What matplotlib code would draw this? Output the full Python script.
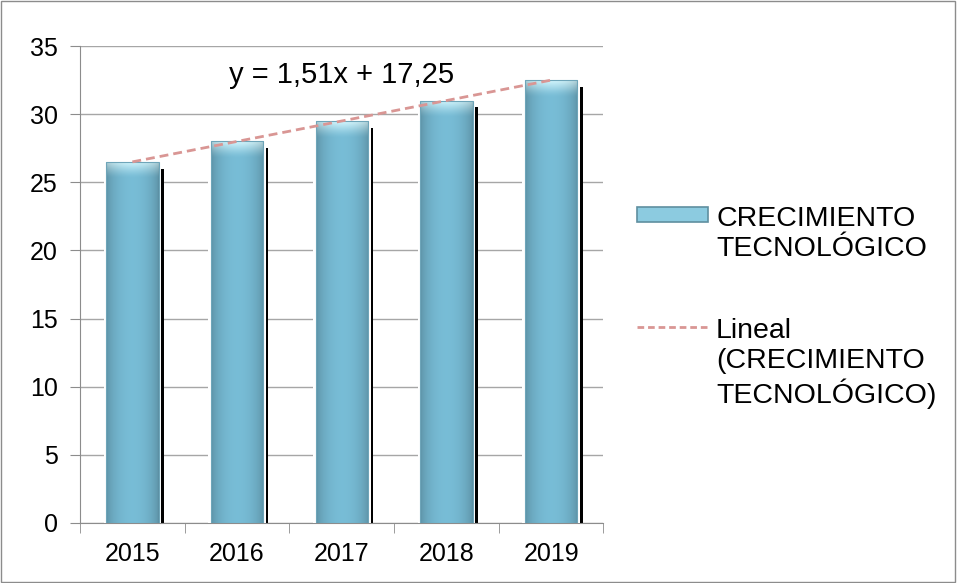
import matplotlib.pyplot as plt
import numpy as np
from matplotlib.patches import Rectangle
from matplotlib.lines import Line2D

plt.rcParams['font.family'] = ['Liberation Sans', 'DejaVu Sans']

years = ['2015', '2016', '2017', '2018', '2019']
values = [26.5, 28, 29.5, 31, 32.5]
series_name = 'CRECIMIENTO\nTECNOLÓGICO'
trend_name = 'Lineal\n(CRECIMIENTO\nTECNOLÓGICO)'
equation = 'y = 1,51x + 17,25'
yticks = [0, 5, 10, 15, 20, 25, 30, 35]

W, H = 957, 583
fig = plt.figure(figsize=(W / 100, H / 100), dpi=100)
ax = fig.add_axes([0.0836, 0.103, 0.547, 0.818])

x = np.arange(len(years))
w = 0.5

body_col = np.array([0.47, 0.74, 0.84])
top_col = np.array([0.82, 0.96, 0.99])
nx = 60
prof = 0.76 + 0.24 * np.sin(np.pi * np.linspace(0, 1, nx)) ** 0.6


def bar_image(v):
    # vertical: body colour, lightening in the top ~1 unit
    ny = 400
    yy = np.linspace(0, v, ny)
    mix = np.clip((yy - (v - 1.2)) / 1.2, 0, 1) ** 1.5
    col = body_col[None, :] * (1 - mix[:, None]) + top_col[None, :] * mix[:, None]
    img = col[:, None, :] * prof[None, :, None]
    img = img * (1 - 0.25 * mix[:, None, None]) + 0.25 * mix[:, None, None] * top_col
    return np.clip(img, 0, 1)


for xi, v in zip(x, values):
    # shadow
    ax.add_patch(Rectangle((xi - w / 2 + 0.05, 0), w, v - 0.5,
                           facecolor='black', edgecolor='none', zorder=2))
    # white glow
    ax.add_patch(Rectangle((xi - w / 2 - 0.025, 0), w + 0.05, v + 0.25,
                           facecolor='white', edgecolor='none', zorder=3))
    body = Rectangle((xi - w / 2, 0), w, v, facecolor='none',
                     edgecolor='#6ea5b9', lw=0.8, zorder=5)
    ax.add_patch(body)
    im = ax.imshow(bar_image(v), extent=[xi - w / 2, xi + w / 2, 0, v],
                   aspect='auto', zorder=4, origin='lower')
    im.set_clip_path(body)

# linear trendline
slope, icpt = np.polyfit(x, values, 1)
ax.plot(x, slope * x + icpt, color='#d99694', lw=2.0, ls=(0, (3.2, 1.8)),
        zorder=6)
ax.text(2.0, 32.9, equation, ha='center', va='center', fontsize=21,
        zorder=7)

ax.set_xlim(-0.5, 4.5)
ax.set_ylim(0, 35)
ax.set_yticks(yticks)
ax.set_xticks(x)
ax.set_xticklabels(years)
ax.set_xticks(np.arange(-0.5, 5, 1), minor=True)
ax.tick_params(axis='x', which='major', length=0, pad=14, labelsize=18)
ax.tick_params(axis='x', which='minor', length=7, color='#8c8c8c',
               direction='out')
ax.tick_params(axis='y', length=7, color='#8c8c8c', labelsize=18, pad=9)
ax.yaxis.grid(True, color='#a6a6a6', lw=1)
ax.set_axisbelow(True)
for s in ['top', 'right']:
    ax.spines[s].set_visible(False)
for s in ['left', 'bottom']:
    ax.spines[s].set_color('#8c8c8c')

# legend, drawn by hand so the keys line up with the first text line
def fx(px):
    return px / W


def fy(py):
    return 1 - py / H


fig.patches.append(Rectangle((fx(637), fy(222)), fx(708) - fx(637),
                             fy(207) - fy(222), transform=fig.transFigure,
                             facecolor='#8ccbe0', edgecolor='#5f8fa0', lw=1.2))
fig.lines.append(Line2D([fx(637), fx(708)], [fy(327), fy(327)],
                        transform=fig.transFigure, color='#d99694', lw=2.0,
                        ls=(0, (2.4, 1.4))))
fig.text(fx(716), fy(256), series_name, fontsize=20.5, va='baseline',
         ha='left', linespacing=1.2)
fig.text(fx(716), fy(403), trend_name, fontsize=20.5, va='baseline',
         ha='left', linespacing=1.2)

fig.patches.append(Rectangle((0.001, 0.001), 0.997, 0.997,
                             transform=fig.transFigure, fill=False,
                             edgecolor='#8c8c8c', lw=1))

fig.savefig('out.png', dpi=100)
